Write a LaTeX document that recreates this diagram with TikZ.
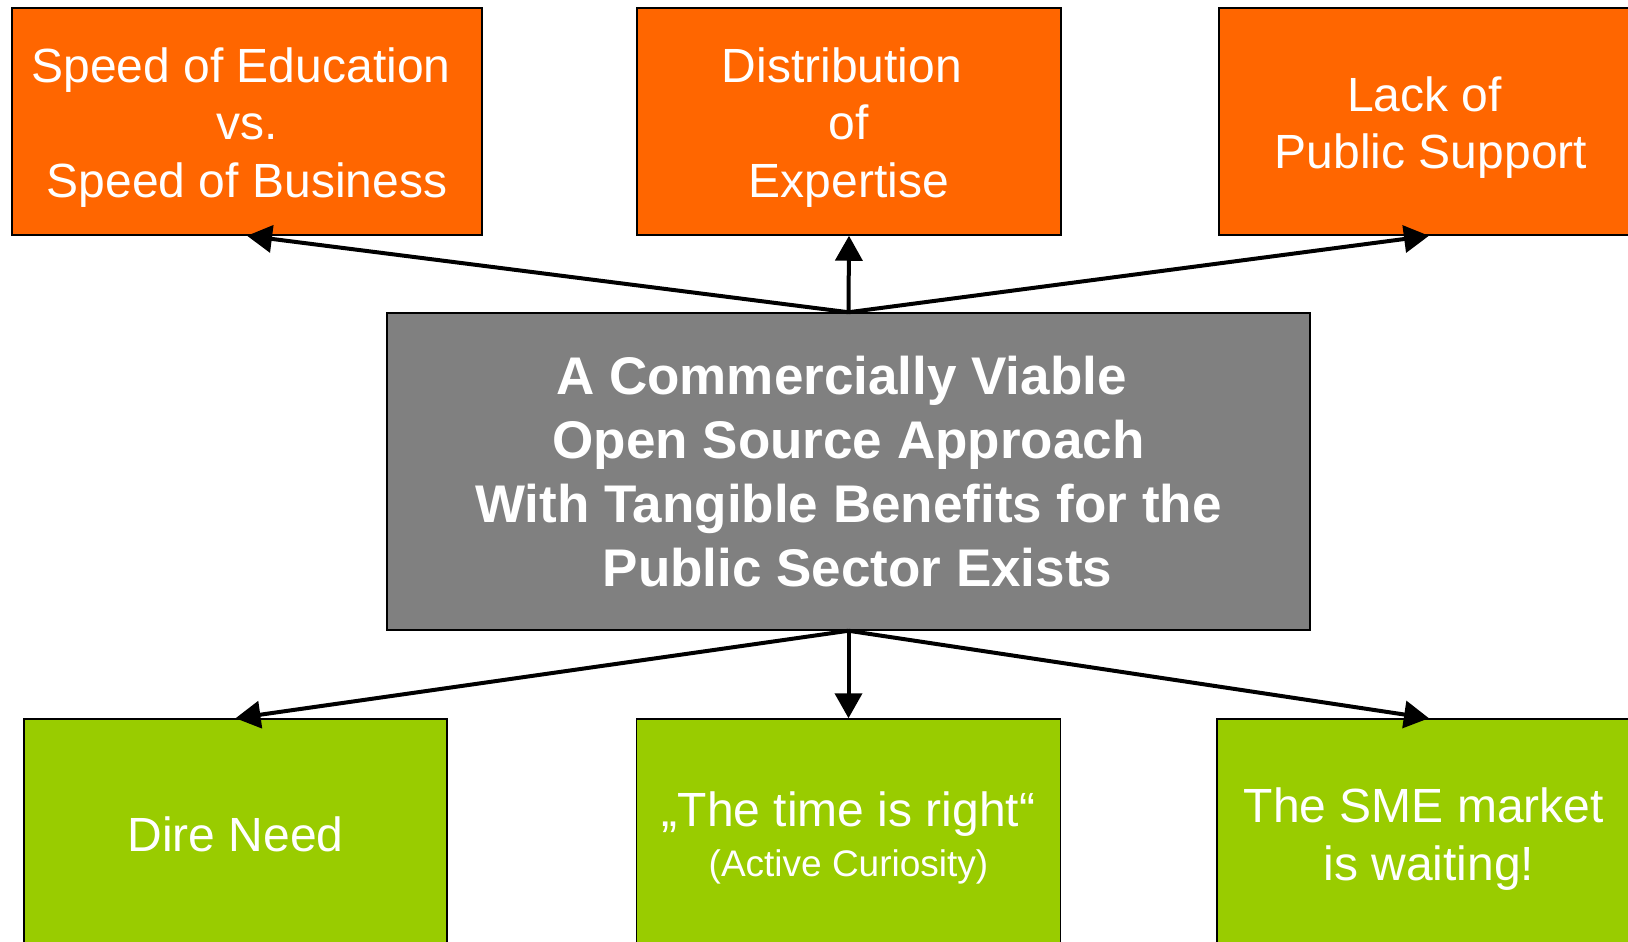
\documentclass[tikz,border=0pt]{standalone}
\usepackage{fontspec}
\setmainfont{Liberation Sans}
\usetikzlibrary{arrows.meta}
\definecolor{orangefill}{HTML}{FF6600}
\definecolor{greenfill}{HTML}{99CC00}
\definecolor{grayfill}{HTML}{808080}
\begin{document}
\begin{tikzpicture}[x=1pt,y=-1pt,
  box/.style={draw=black,line width=1.5pt,rectangle,inner sep=0pt},
  topbox/.style={box,fill=orangefill,minimum height=227pt,minimum width=424pt},
  botbox/.style={box,fill=greenfill,minimum height=230pt,minimum width=424pt},
  centerbox/.style={box,fill=grayfill,minimum height=317pt,minimum width=923pt,align=center,text=white,
    font=\fontsize{53}{64}\selectfont\bfseries},
  txt/.style={inner sep=0pt,align=center,text=white,font=\fontsize{48}{57.6}\selectfont},
  arr/.style={line width=4pt,-{Triangle[width=27pt,length=25pt]}}]
\useasboundingbox (0,0) rectangle (1628,942);
\clip (0,0) rectangle (1628,942);
\fill[white] (0,0) rectangle (1628,942);

\node[topbox,minimum width=470pt] (tl) at (247,121.5) {};
\node[txt] (tlt) at ([yshift=-6pt]tl.center) {Speed of Education\hspace*{12pt}\\vs.\hspace*{12pt}\\Speed of Business};
\node[topbox] (tm) at (849,121.5) {};
\node[txt] (tmt) at ([yshift=-6pt]tm.center) {Distribution\hspace*{14pt}\\of\hspace*{13pt}\\Expertise};
\node[topbox] (tr) at (1431,121.5) {};
\node[txt] (trt) at ([yshift=-6pt]tr.center) {Lack of\hspace*{13pt}\\Public Support};

\node[centerbox] (c) at (848.5,471.5) {A Commercially Viable\hspace*{14pt}\\Open Source Approach\\With Tangible Benefits for the\\\hspace*{18pt}Public Sector Exists};

\node[botbox,minimum width=423pt] (bl) at (235.5,834) {};
\node[txt] (blt) at (bl.center) {Dire Need};
\node[botbox] (bm) at (848.5,834) {};
\node[txt] (bmt) at ([yshift=-4pt]bm.center) {„The time is right“\\[-8pt]{\fontsize{37}{44}\selectfont (Active Curiosity)}};
\node[botbox] (br) at (1429,834) {};
\node[txt] (brt) at ([yshift=-5pt]br.center) {The SME market\hspace*{10pt}\\is waiting!};

\draw[arr] (c.north) -- (tl.south);
\draw[arr] (c.north) -- (tm.south);
\draw[arr] (c.north) -- ([xshift=-2pt]tr.south);
\draw[arr] (c.south) -- (bl.north);
\draw[arr] (c.south) -- (bm.north);
\draw[arr] (c.south) -- (br.north);
\end{tikzpicture}
\end{document}
